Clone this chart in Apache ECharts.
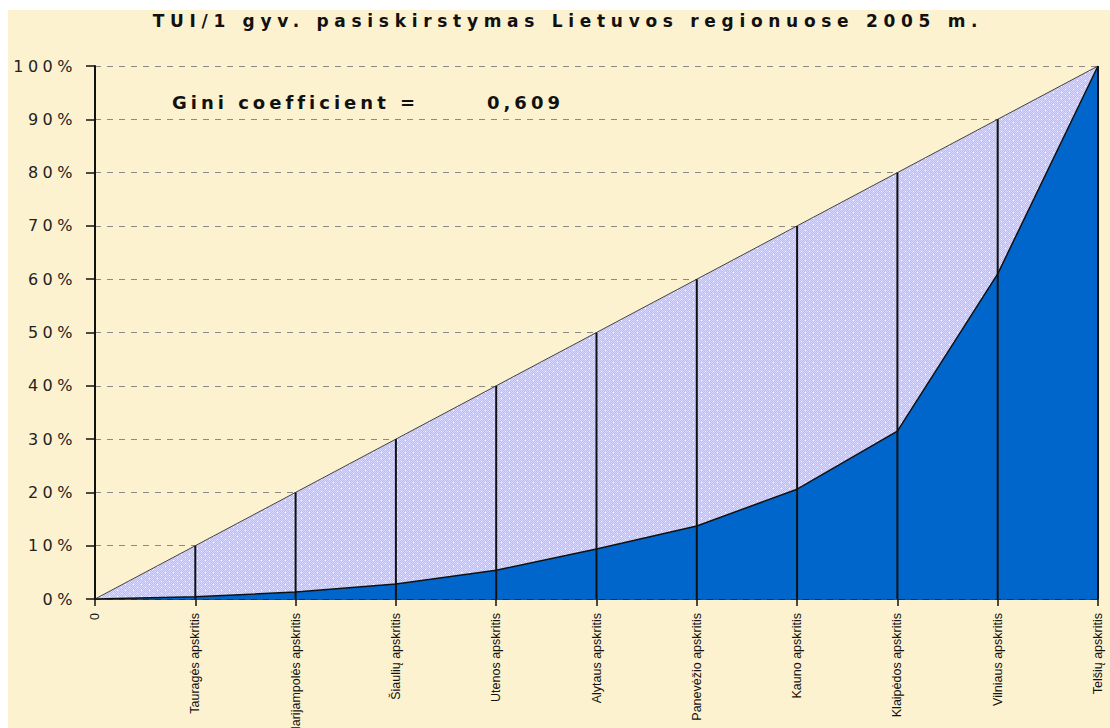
<!DOCTYPE html>
<html>
<head>
<meta charset="utf-8">
<title>TUI/1 gyv. pasiskirstymas</title>
<script src="https://cdn.jsdelivr.net/npm/echarts@6/dist/echarts.min.js"></script>
<style>
  html, body { margin: 0; padding: 0; background: #ffffff; }
  #chart { position: absolute; left: 8px; top: 10px; width: 1102px; height: 718px; }
  /* the old excel picture has very wide spacing between letters */
  #chart text[style*="17px"] { letter-spacing: 5.7px; }
  #chart text[style*="18px"] { letter-spacing: 4px; }
  #chart text[style*="16px"] { letter-spacing: 4.5px; }
</style>
</head>
<body>
<div id="chart"></div>
<script>
const regions = [
  "0",
  "Tauragės apskritis",
  "Marijampolės apskritis",
  "Šiaulių apskritis",
  "Utenos apskritis",
  "Alytaus apskritis",
  "Panevėžio apskritis",
  "Kauno apskritis",
  "Klaipėdos apskritis",
  "Vilniaus apskritis",
  "Telšių apskritis",
];
const equality = [0, 10, 20, 30, 40, 50, 60, 70, 80, 90, 100];
const lorenz = [0, 0.4, 1.3, 2.8, 5.4, 9.4, 13.7, 20.6, 31.5, 61.0, 100];
const dropLines = [null, 10, 20, 30, 40, 50, 60, 70, 80, 90, 100];
const yTicks = [0, 10, 20, 30, 40, 50, 60, 70, 80, 90, 100];
const giniLabel = "Gini coefficient =";
const giniValue = "0,609";

// dotted lavender fill like the excel pattern
function makePattern() {
  const c = document.createElement("canvas");
  c.width = 8;
  c.height = 6;
  const ctx = c.getContext("2d");
  ctx.fillStyle = "#bcbcf7";
  ctx.fillRect(0, 0, 8, 6);
  ctx.fillStyle = "#d6d6fe";
  for (let y = 0; y < 6; y++) {
    for (let x = 0; x < 8; x++) {
      if ((x + y) % 2 === 0) ctx.fillRect(x, y, 1, 1);
    }
  }
  ctx.fillStyle = "#ffffff";
  ctx.fillRect(1, 1, 1, 1);
  ctx.fillRect(5, 4, 1, 1);
  return c.toDataURL();
}

const chart = echarts.init(document.getElementById("chart"), null, { renderer: "svg" });

const option = {
  backgroundColor: "#fdf2d0",
  animation: false,
  title: {
    text: "TUI/1 gyv. pasiskirstymas Lietuvos regionuose 2005 m.",
    left: 560,
    top: 2,
    padding: 0,
    textAlign: "center",
    textStyle: { fontFamily: "DejaVu Sans", fontSize: 17, fontWeight: "bold", color: "#111" },
  },
  grid: { left: 87, right: 12, top: 56, bottom: 129, containLabel: false, outerBoundsMode: "none" },
  xAxis: {
    type: "category",
    data: regions,
    boundaryGap: false,
    axisLine: { show: true, lineStyle: { color: "#111", width: 1.5 } },
    axisTick: { show: true, length: 7, interval: 0, lineStyle: { color: "#111", width: 1.5 } },
    axisLabel: {
      interval: 0,
      rotate: 90,
      margin: 14,
      fontFamily: "Liberation Sans",
      fontSize: 12.5,
      color: "#111",
    },
    splitLine: { show: false },
  },
  yAxis: {
    type: "value",
    min: yTicks[0],
    max: yTicks[yTicks.length - 1],
    interval: 10,
    axisLine: { show: true, lineStyle: { color: "#111", width: 2 } },
    axisTick: { show: true, length: 9, lineStyle: { color: "#111", width: 1.5 } },
    axisLabel: {
      formatter: "{value}%",
      margin: 18,
      fontFamily: "DejaVu Sans",
      fontSize: 16,
      color: "#222",
    },
    splitLine: { show: true, lineStyle: { color: "#8a8a8a", width: 1, type: [6, 6] } },
  },
  series: [
    {
      name: "equality",
      type: "line",
      data: equality,
      symbol: "none",
      z: 2,
      lineStyle: { color: "#444", width: 1 },
      areaStyle: { color: { image: makePattern(), repeat: "repeat" }, opacity: 1 },
    },
    {
      name: "lorenz",
      type: "line",
      data: lorenz,
      symbol: "none",
      z: 3,
      lineStyle: { color: "#111", width: 1.5 },
      areaStyle: { color: "#0066cc", opacity: 1 },
    },
    {
      name: "drop",
      type: "bar",
      data: dropLines,
      barWidth: 2,
      clip: false,
      z: 4,
      itemStyle: { color: "#111" },
    },
  ],
  graphic: [
    {
      type: "text",
      x: 164,
      y: 92,
      style: {
        text: giniLabel,
        fontFamily: "DejaVu Sans",
        fontSize: 18,
        fontWeight: "bold",
        fill: "#111",
        verticalAlign: "middle",
      },
    },
    {
      type: "text",
      x: 479,
      y: 92,
      style: {
        text: giniValue,
        fontFamily: "DejaVu Sans",
        fontSize: 18,
        fontWeight: "bold",
        fill: "#111",
        verticalAlign: "middle",
      },
    },
  ],
};

chart.setOption(option);
</script>
</body>
</html>
